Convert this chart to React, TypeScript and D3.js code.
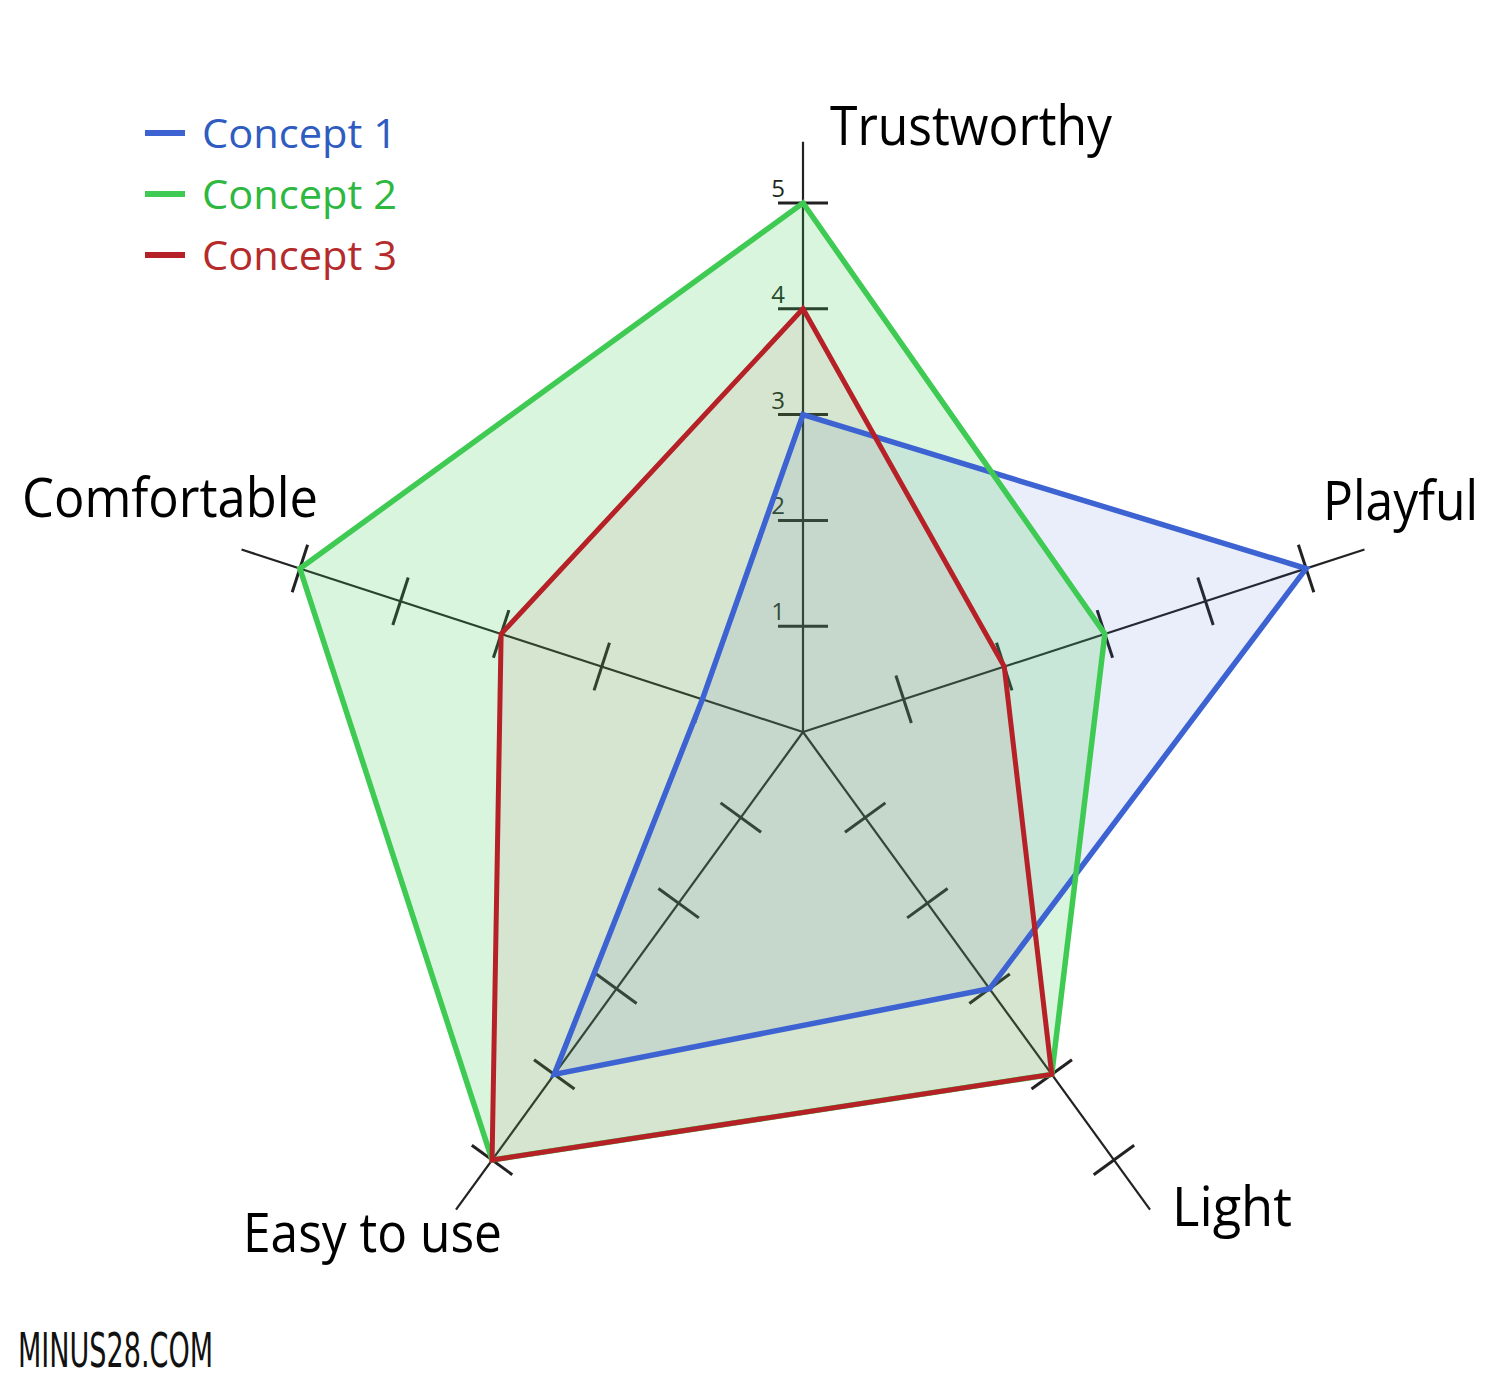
import * as d3 from "d3";
import { useEffect } from "react";

const axes = ["Trustworthy", "Playful", "Light", "Easy to use", "Comfortable"];
const concept1 = [3, 5, 3, 4, 1];
const concept2 = [5, 3, 4, 5, 5];
const concept3 = [4, 2, 4, 5, 3];
const seriesNames = ["Concept 1", "Concept 2", "Concept 3"];
const tickValues = [1, 2, 3, 4, 5];

const W = 1500;
const H = 1384;
const cx = 803;
const cy = 732;

const lineColors = ["#3d63d2", "#3fcb53", "#b52126"];
const textColors = ["#2f5cc0", "#2eb83f", "#b52b2b"];
const fillOpacity = [0.11, 0.2, 0.07];

export default function App() {
  useEffect(() => {
    document.body.style.margin = "0";
  }, []);

  const r = d3.scaleLinear().domain([0, 5]).range([0, 529]);
  const angle = d3
    .scaleLinear()
    .domain([0, axes.length])
    .range([0, 2 * Math.PI]);

  // lineRadial angle: 0 = up, clockwise
  const pt = (i: number, v: number): [number, number] => {
    const a = angle(i);
    return [Math.sin(a) * r(v), -Math.cos(a) * r(v)];
  };

  const radial = d3
    .lineRadial<number>()
    .angle((_, i) => angle(i))
    .radius((d) => r(d))
    .curve(d3.curveLinearClosed);

  const data = [concept1, concept2, concept3];
  const drawOrder = [0, 1, 2];
  const strokeOrder = [0, 1, 2];

  const labelPos = [
    { x: 830 - cx, y: 145 - cy, anchor: "start", len: 282 },
    { x: 1478 - cx, y: 520 - cy, anchor: "end", len: 155 },
    { x: 1172 - cx, y: 1226 - cy, anchor: "start", len: 120 },
    { x: 243 - cx, y: 1252 - cy, anchor: "start", len: 259 },
    { x: 22 - cx, y: 517 - cy, anchor: "start", len: 296 },
  ];

  return (
    <svg width={W} height={H} style={{ display: "block", background: "#fff" }}>
      <g transform={`translate(${cx},${cy})`}>
        {/* axes */}
        {axes.map((name, i) => {
          const [x2, y2] = pt(i, 5.58);
          const a = angle(i);
          const px = Math.cos(a);
          const py = Math.sin(a);
          return (
            <g key={name}>
              <line x1={0} y1={0} x2={x2} y2={y2} stroke="#222" strokeWidth={2.2} />
              {tickValues.map((t) => {
                const [tx, ty] = pt(i, t);
                return (
                  <line
                    key={t}
                    x1={tx - px * 25}
                    y1={ty - py * 25}
                    x2={tx + px * 25}
                    y2={ty + py * 25}
                    stroke="#222"
                    strokeWidth={3}
                  />
                );
              })}
            </g>
          );
        })}
        {tickValues.map((t) => (
          <text
            key={t}
            x={-25}
            y={-r(t) - 6}
            fontFamily="'Open Sans', sans-serif"
            fontSize={24}
            fill="#1c2a1c"
            textAnchor="middle"
          >
            {t}
          </text>
        ))}
        {/* fills */}
        {drawOrder.map((s) => (
          <path
            key={"f" + s}
            d={radial(data[s]) || ""}
            fill={lineColors[s]}
            fillOpacity={fillOpacity[s]}
            stroke="none"
          />
        ))}
        {/* outlines */}
        {strokeOrder.map((s) => (
          <path
            key={"s" + s}
            d={radial(data[s]) || ""}
            fill="none"
            stroke={lineColors[s]}
            strokeWidth={s === 2 ? 5 : 5.5}
            strokeLinejoin="miter"
          />
        ))}
        {/* axis labels */}
        {axes.map((name, i) => (
          <text
            key={name}
            x={labelPos[i].x}
            y={labelPos[i].y}
            textAnchor={labelPos[i].anchor}
            fontFamily="'Open Sans', sans-serif"
            fontSize={54}
            fill="#000"
            textLength={labelPos[i].len}
            lengthAdjust="spacingAndGlyphs"
          >
            {name}
          </text>
        ))}
      </g>

      {/* legend */}
      {seriesNames.map((name, i) => (
        <g key={name} transform={`translate(145,${133 + i * 61})`}>
          <line x1={0} x2={40} y1={0} y2={0} stroke={lineColors[i]} strokeWidth={6} />
          <text
            x={57}
            y={15}
            fontFamily="'Open Sans', sans-serif"
            fontSize={40}
            fill={textColors[i]}
            textLength={195}
            lengthAdjust="spacingAndGlyphs"
          >
            {name}
          </text>
        </g>
      ))}

      <text
        x={18}
        y={1367}
        fontFamily="'DejaVu Sans Condensed', 'DejaVu Sans', sans-serif"
        fontSize={48}
        fill="#111"
        textLength={195}
        lengthAdjust="spacingAndGlyphs"
      >
        MINUS28.COM
      </text>
    </svg>
  );
}
